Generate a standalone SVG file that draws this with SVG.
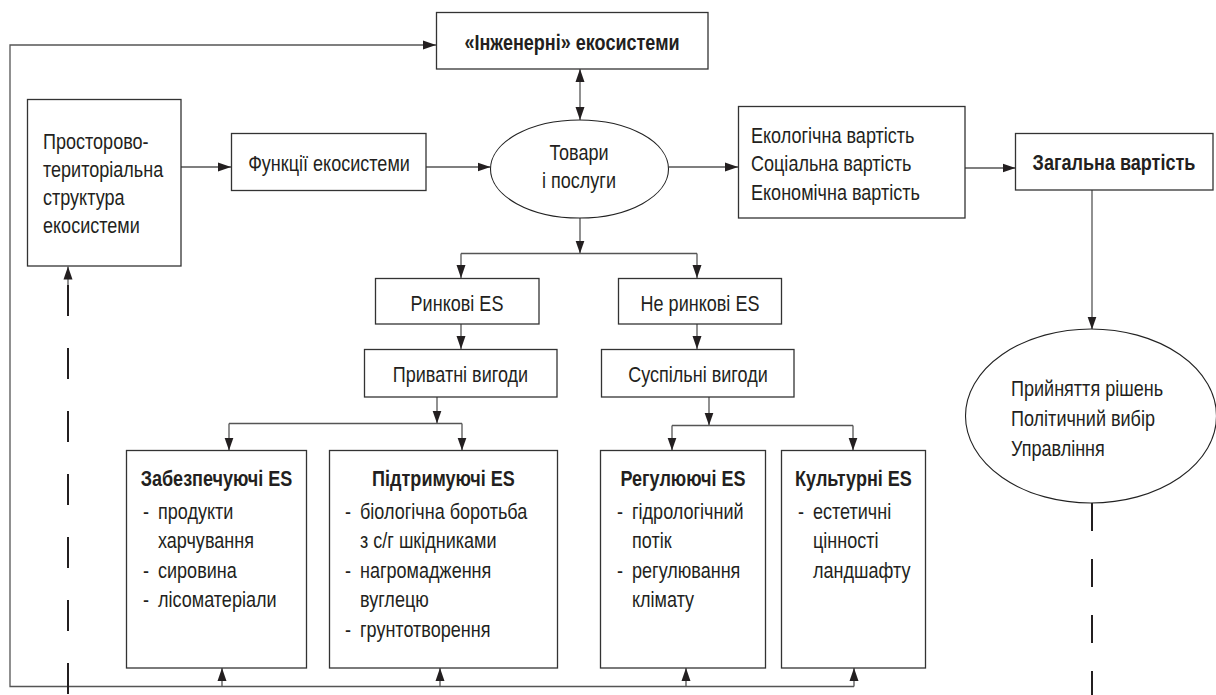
<svg xmlns="http://www.w3.org/2000/svg" width="1216" height="695" viewBox="0 0 1216 695">
<defs>
<style>
text{font-family:"Liberation Sans",Arial,sans-serif;font-size:22px;fill:#231f20}
.b{font-weight:bold}
.c{text-anchor:middle}
.box{fill:#fff;stroke:#333;stroke-width:1.3}
.ell{fill:#fff;stroke:#222;stroke-width:1.1}
.ln{fill:none;stroke:#555;stroke-width:1.3}
.dash{fill:none;stroke:#231f20;stroke-width:2}
</style>
<marker id="ah" markerWidth="13" markerHeight="10" refX="13" refY="5" orient="auto-start-reverse" markerUnits="userSpaceOnUse">
<path d="M0,0.5 L13,5 L0,9.5 z" fill="#231f20"/>
</marker>
</defs>
<rect width="1216" height="695" fill="#fff"/>

<g id="connectors">
<path class="ln" d="M854,686.5 H10 V45 H436" marker-end="url(#ah)"/>
<path class="ln" d="M222,686.5 V668" marker-end="url(#ah)"/>
<path class="ln" d="M440,686.5 V668" marker-end="url(#ah)"/>
<path class="ln" d="M686,686.5 V668" marker-end="url(#ah)"/>
<path class="ln" d="M854,686.5 V668" marker-end="url(#ah)"/>
<path class="ln" d="M580,69 V120" marker-start="url(#ah)" marker-end="url(#ah)"/>
<path class="ln" d="M181,167 H231" marker-end="url(#ah)"/>
<path class="ln" d="M426,167 H490.5" marker-end="url(#ah)"/>
<path class="ln" d="M668.5,167 H738" marker-end="url(#ah)"/>
<path class="ln" d="M965,168 H1015.5" marker-end="url(#ah)"/>
<path class="ln" d="M580,218 V253.5" marker-end="url(#ah)"/>
<path class="ln" d="M461,253.5 H697"/>
<path class="ln" d="M461,253.5 V278" marker-end="url(#ah)"/>
<path class="ln" d="M697,253.5 V278" marker-end="url(#ah)"/>
<path class="ln" d="M461,324 V349" marker-end="url(#ah)"/>
<path class="ln" d="M697,324 V349" marker-end="url(#ah)"/>
<path class="ln" d="M437,397 V423.5" marker-end="url(#ah)"/>
<path class="ln" d="M229,423.5 H462"/>
<path class="ln" d="M229,423.5 V450.5" marker-end="url(#ah)"/>
<path class="ln" d="M462,423.5 V450.5" marker-end="url(#ah)"/>
<path class="ln" d="M709,397 V425.5" marker-end="url(#ah)"/>
<path class="ln" d="M672,425.5 H853"/>
<path class="ln" d="M672,425.5 V450.5" marker-end="url(#ah)"/>
<path class="ln" d="M853,425.5 V450.5" marker-end="url(#ah)"/>
<path class="ln" d="M1092,190 V329.5" marker-end="url(#ah)"/>
<path class="dash" d="M68,694 V285" stroke-dasharray="31 32"/>
<path class="ln" d="M68,285 V266.5" marker-end="url(#ah)"/>
<path class="dash" d="M1092,503 V695" stroke-dasharray="28 28"/>
</g>

<g id="n-eng">
<rect class="box" x="436.5" y="12.5" width="271.5" height="56.5"/>
<g transform="scale(0.82 1)"><text class="b c" x="697.56" y="50">«Інженерні» екосистеми</text></g>
</g>

<g id="n-struct">
<rect class="box" x="27.5" y="99.5" width="153.5" height="166.5"/>
<g transform="scale(0.82 1)">
<text x="52.44" y="149">Просторово-</text>
<text x="52.44" y="177">територіальна</text>
<text x="52.44" y="205">структура</text>
<text x="52.44" y="233">екосистеми</text>
</g>
</g>

<g id="n-func">
<rect class="box" x="231.5" y="133.5" width="194.5" height="57"/>
<g transform="scale(0.82 1)"><text class="c" x="401.22" y="171">Функції екосистеми</text></g>
</g>

<g id="n-goods">
<ellipse class="ell" cx="579.5" cy="169" rx="89" ry="49"/>
<g transform="scale(0.82 1)">
<text class="c" x="706.1" y="160">Товари</text>
<text class="c" x="706.1" y="188">і послуги</text>
</g>
</g>

<g id="n-values">
<rect class="box" x="738.5" y="106.5" width="226.5" height="111.5"/>
<g transform="scale(0.82 1)">
<text x="915.85" y="143">Екологічна вартість</text>
<text x="915.85" y="171">Соціальна вартість</text>
<text x="915.85" y="200">Економічна вартість</text>
</g>
</g>

<g id="n-total">
<rect class="box" x="1015.5" y="133.5" width="197.5" height="56.5"/>
<g transform="scale(0.82 1)"><text class="b c" x="1358.54" y="170">Загальна вартість</text></g>
</g>

<g id="n-market">
<rect class="box" x="375.5" y="278.5" width="163.5" height="45.5"/>
<g transform="scale(0.82 1)"><text class="c" x="557.32" y="311">Ринкові ES</text></g>
</g>

<g id="n-nonmarket">
<rect class="box" x="618.5" y="278.5" width="163" height="45.5"/>
<g transform="scale(0.82 1)"><text class="c" x="853.66" y="311">Не ринкові ES</text></g>
</g>

<g id="n-private">
<rect class="box" x="364.5" y="349.5" width="192.5" height="47.5"/>
<g transform="scale(0.82 1)"><text class="c" x="561.59" y="382">Приватні вигоди</text></g>
</g>

<g id="n-public">
<rect class="box" x="601.5" y="349.5" width="192.5" height="47.5"/>
<g transform="scale(0.82 1)"><text class="c" x="851.22" y="382">Суспільні вигоди</text></g>
</g>

<g id="n-provisioning">
<rect class="box" x="126.5" y="450.5" width="180" height="217.5"/>
<g transform="scale(0.82 1)">
<text class="b c" x="264.02" y="486">Забезпечуючі ES</text>
<text><tspan x="174.39" y="519">-</tspan><tspan x="192.68" y="519">продукти</tspan></text>
<text x="192.68" y="548">харчування</text>
<text><tspan x="174.39" y="578">-</tspan><tspan x="192.68" y="578">сировина</tspan></text>
<text><tspan x="174.39" y="607">-</tspan><tspan x="192.68" y="607">лісоматеріали</tspan></text>
</g>
</g>

<g id="n-supporting">
<rect class="box" x="329.5" y="450.5" width="228" height="217.5"/>
<g transform="scale(0.82 1)">
<text class="b c" x="540.85" y="486">Підтримуючі ES</text>
<text><tspan x="420.73" y="519">-</tspan><tspan x="439.02" y="519">біологічна боротьба</tspan></text>
<text x="439.02" y="548">з с/г шкідниками</text>
<text><tspan x="420.73" y="578">-</tspan><tspan x="439.02" y="578">нагромадження</tspan></text>
<text x="439.02" y="607">вуглецю</text>
<text><tspan x="420.73" y="637">-</tspan><tspan x="439.02" y="637">грунтотворення</tspan></text>
</g>
</g>

<g id="n-regulating">
<rect class="box" x="600.5" y="450.5" width="165" height="217.5"/>
<g transform="scale(0.82 1)">
<text class="b c" x="832.93" y="486">Регулюючі ES</text>
<text><tspan x="752.44" y="519">-</tspan><tspan x="770.73" y="519">гідрологічний</tspan></text>
<text x="770.73" y="548">потік</text>
<text><tspan x="752.44" y="578">-</tspan><tspan x="770.73" y="578">регулювання</tspan></text>
<text x="770.73" y="607">клімату</text>
</g>
</g>

<g id="n-cultural">
<rect class="box" x="781.5" y="450.5" width="144" height="217.5"/>
<g transform="scale(0.82 1)">
<text class="b c" x="1040.85" y="486">Культурні ES</text>
<text><tspan x="973.17" y="519">-</tspan><tspan x="991.46" y="519">естетичні</tspan></text>
<text x="991.46" y="548">цінності</text>
<text x="991.46" y="578">ландшафту</text>
</g>
</g>

<g id="n-decision">
<ellipse class="ell" cx="1091" cy="416" rx="125.5" ry="87"/>
<g transform="scale(0.82 1)">
<text x="1232.93" y="396">Прийняття рішень</text>
<text x="1232.93" y="426">Політичний вибір</text>
<text x="1232.93" y="456">Управління</text>
</g>
</g>
</svg>
